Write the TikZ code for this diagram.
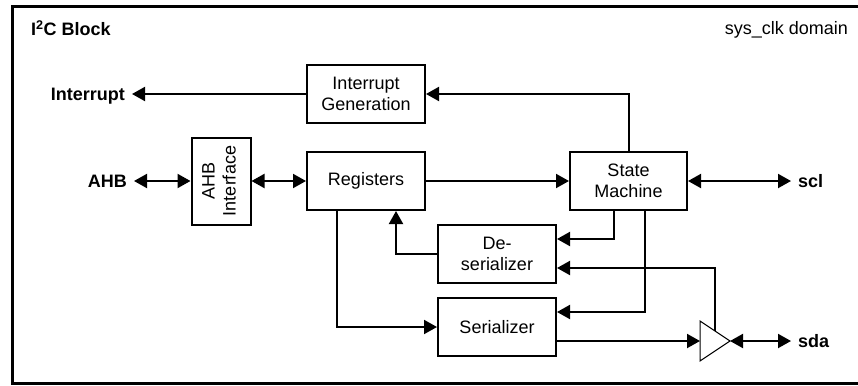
\documentclass[tikz,border=0pt]{standalone}
\usepackage{fontspec}
\setmainfont{Liberation Sans}
\usetikzlibrary{arrows.meta,calc}
\begin{document}
\begin{tikzpicture}[x=1pt,y=-1pt,
  box/.style={draw,line width=2pt,minimum width=118pt,minimum height=58pt,align=center,inner sep=0pt,font=\fontsize{18}{21}\selectfont},
  lbl/.style={font=\bfseries\fontsize{18}{21}\selectfont,inner xsep=7pt,inner ysep=0pt,text height=13pt,text depth=0pt},
  wire/.style={line width=2pt},
  arr/.style={wire,-{Triangle[length=13pt,width=14pt]}},
  darr/.style={wire,{Triangle[length=13pt,width=14pt]}-{Triangle[length=13pt,width=14pt]}}]
\useasboundingbox (0,0) rectangle (858,385);
% frame
\draw[line width=3pt] (862,6.5) -- (12,6.5) -- (12,383.5) -- (862,383.5);
% titles
\node[anchor=base west,inner sep=0pt,font=\bfseries\fontsize{18}{21}\selectfont] (title) at (31,36) {I\textsuperscript{2}C Block};
\node[anchor=base east,inner sep=0pt,font=\fontsize{18}{21}\selectfont] (domain) at (848,35) {sys\_clk domain};
% blocks
\node[box] (intgen) at (366,94) {Interrupt\\Generation};
\node[box,minimum width=59pt,minimum height=87pt] (ahbif) at (221,181) {\rotatebox{90}{\begin{tabular}{@{}c@{}}AHB\\Interface\end{tabular}}};
\node[box] (regs) at (366,181) {Registers};
\node[box,minimum width=117pt] (sm) at (628.5,181) {State\\Machine};
\node[box] (deser) at (497,254) {De-\\serializer};
\node[box] (ser) at (497,327) {Serializer};
% buffer
\coordinate (bufin) at (700,341);
\coordinate (bufout) at (730,341);
\coordinate (buftop) at (715,331);
\coordinate (bufupper) at (700,321);
\coordinate (buflower) at (700,361);
\draw[line width=1pt,line join=miter] (bufupper) -- (bufout) -- (buflower) -- cycle;
% external labels
\node[lbl,anchor=east] (intlbl) at (132,94) {Interrupt};
\node[lbl,anchor=east] (ahblbl) at (134,181) {AHB};
\node[lbl,anchor=west] (scllbl) at (791,181) {scl};
\node[lbl,anchor=west] (sdalbl) at (791,341) {sda};
% connectors
\draw[arr] (intgen.west) -- (intlbl.east);
\draw[darr] (ahblbl.east) -- (ahbif.west);
\draw[darr] (ahbif.east) -- (regs.west);
\draw[arr] (regs.east) -- (sm.west);
\draw[darr] (sm.east) -- (scllbl.west);
\draw[arr] (sm.north) |- (intgen.east);
\draw[arr] ($(sm.south)+(-14.5,0)$) |- ($(deser.east)+(0,-15)$);
\draw[arr] ($(sm.south)+(16.5,0)$) |- ($(ser.east)+(0,-15)$);
\draw[arr] ($(ser.east)+(0,14)$) -- (bufin);
\draw[arr] (buftop) |- ($(deser.east)+(0,14)$);
\draw[darr] (bufout) -- (sdalbl.west);
\draw[arr] (deser.west) -| ($(regs.south)+(30,0)$);
\draw[arr] ($(regs.south)+(-29,0)$) |- (ser.west);
\end{tikzpicture}
\end{document}
